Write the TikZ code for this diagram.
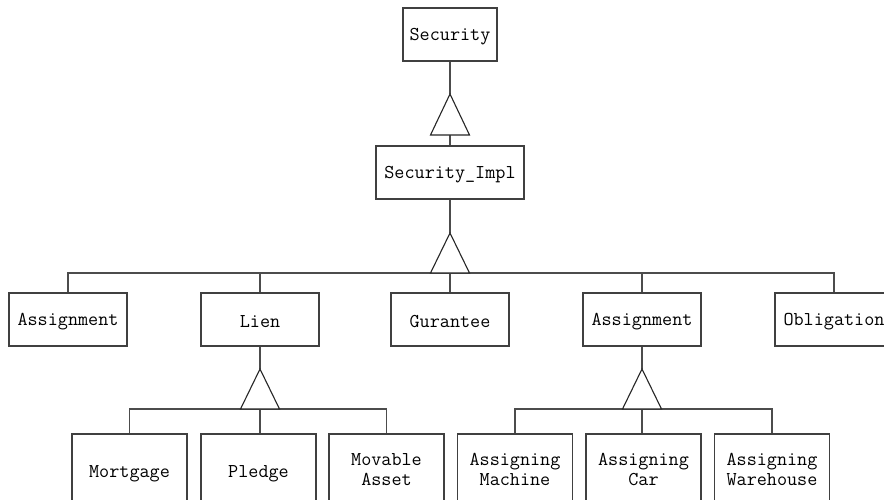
\documentclass[tikz,border=0pt]{standalone}
\usepackage{fontspec}
% strut for one-line labels, sitting a little lower in its box
\newcommand{\onestrut}{\rule[-2.25pt]{0pt}{19.5pt}}
\begin{document}
\begin{tikzpicture}[x=1pt,y=-1pt,
  line width=1.1pt,
  cls/.style={draw=black!75, fill=white, line width=1.1pt, inner sep=0pt,
    minimum height=53pt, align=center,
    font=\ttfamily\fontsize{19.6}{19.5}\selectfont},
  leaf/.style={cls, minimum width=115pt, minimum height=75pt},
  mid/.style={cls, minimum width=118pt},
  wire/.style={draw=black!70, line width=1.1pt},
  gen/.style={draw=black!85, fill=white, line width=1.1pt, line join=miter}
]
\useasboundingbox (0,0) rectangle (884,499);
\begin{scope}
\clip (0,0) rectangle (884,499);

% top of the hierarchy
\node[cls, minimum width=94pt] (sec) at (450,34.5) {\onestrut Security};
\node[cls, minimum width=148pt] (impl) at (450,172.5) {\onestrut Security\_Impl};

% second level
\node[mid] (asg1) at (68,319.5)  {\onestrut Assignment};
\node[mid] (lien) at (260,319.5) {\onestrut Lien};
\node[mid] (gur)  at (450,319.5) {\onestrut Gurantee};
\node[mid] (asg2) at (642,319.5) {\onestrut Assignment};
\node[mid] (obl)  at (834,319.5) {\onestrut Obligation};

% leaves under Lien
\node[leaf] (mort) at (129.5,471.5) {\onestrut Mortgage};
\node[leaf] (pled) at (258.5,471.5) {\onestrut Pledge};
\node[leaf] (mov)  at (386.5,471.5) {\strut Movable\\\strut Asset};

% leaves under Assignment
\node[leaf] (mach) at (515,471.5)   {\strut Assigning\\\strut Machine};
\node[leaf] (car)  at (643.5,471.5) {\strut Assigning\\\strut Car};
\node[leaf] (ware) at (772,471.5)   {\strut Assigning\\\strut Warehouse};

% generalisation triangles: apex and base corners
\coordinate (t1) at (450,94);  \coordinate (t1l) at (430.5,135); \coordinate (t1r) at (469.5,135); \coordinate (t1b) at (450,135);
\coordinate (t2) at (450,233); \coordinate (t2l) at (430.5,273); \coordinate (t2r) at (469.5,273); \coordinate (t2b) at (450,273);
\coordinate (t3) at (260,369); \coordinate (t3l) at (240.5,409); \coordinate (t3r) at (279.5,409); \coordinate (t3b) at (260,409);
\coordinate (t4) at (642,369); \coordinate (t4l) at (622.5,409); \coordinate (t4r) at (661.5,409); \coordinate (t4b) at (642,409);

% Security <- Security_Impl
\draw[wire] (sec.south) -- (t1);
\draw[wire] (t1b) -- (impl.north);
\draw[gen] (t1) -- (t1l) -- (t1r) -- cycle;

% Security_Impl <- second level
\draw[wire] (impl.south) -- (t2);
\draw[wire] (asg1.north) |- (obl.north |- t2b) -- (obl.north);
\draw[wire] (lien.north) -- (lien.north |- t2b);
\draw[wire] (gur.north) -- (gur.north |- t2b);
\draw[wire] (asg2.north) -- (asg2.north |- t2b);
\draw[gen] (t2) -- (t2l) -- (t2r) -- cycle;

% Lien <- leaves
\draw[wire] (lien.south) -- (t3);
\draw[wire] (mort.north) |- (mov.north |- t3b) -- (mov.north);
\draw[wire] (pled.north -| t3b) -- (t3b);
\draw[gen] (t3) -- (t3l) -- (t3r) -- cycle;

% Assignment <- leaves
\draw[wire] (asg2.south) -- (t4);
\draw[wire] (mach.north) |- (ware.north |- t4b) -- (ware.north);
\draw[wire] (car.north -| t4b) -- (t4b);
\draw[gen] (t4) -- (t4l) -- (t4r) -- cycle;
\end{scope}
\end{tikzpicture}
\end{document}
